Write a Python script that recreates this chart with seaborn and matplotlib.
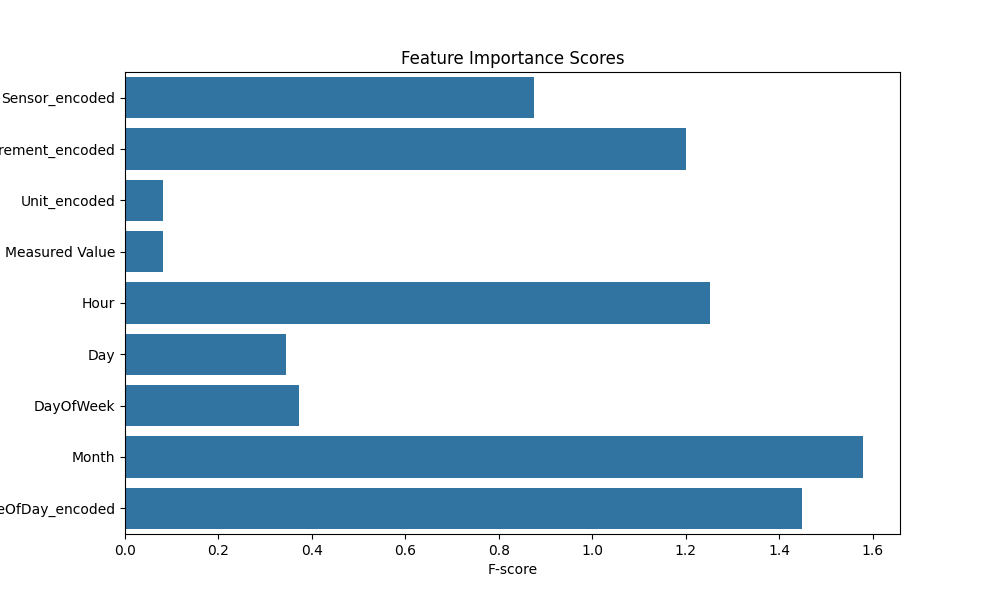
import matplotlib
matplotlib.use('Agg')
import matplotlib.pyplot as plt
import pandas as pd
import seaborn as sns

features = ['Sensor_encoded', 'Measurement_encoded', 'Unit_encoded', 'Measured Value',
            'Hour', 'Day', 'DayOfWeek', 'Month', 'TimeOfDay_encoded']
scores = [0.875, 1.200, 0.081, 0.081, 1.251, 0.344, 0.372, 1.579, 1.448]

df = pd.DataFrame({'Feature': features, 'F-score': scores})

plt.figure(figsize=(10, 6))
sns.barplot(x='F-score', y='Feature', data=df)
plt.title('Feature Importance Scores')
plt.ylabel('')
plt.savefig('out.png', dpi=100)
